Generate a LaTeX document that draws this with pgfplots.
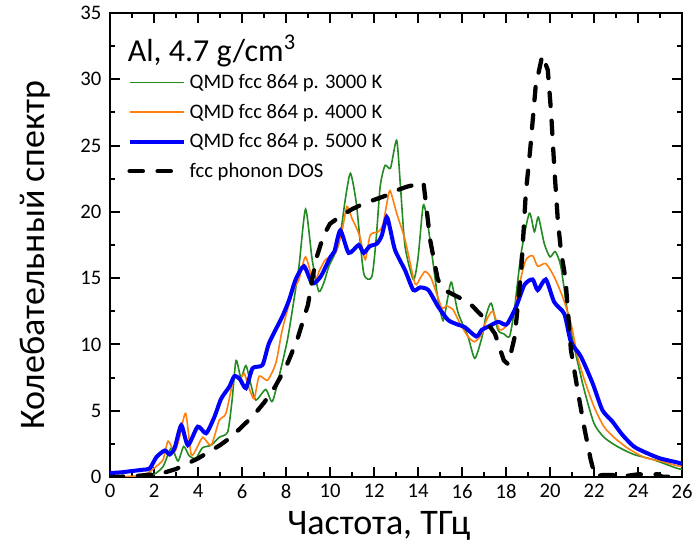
\documentclass[border=0pt]{standalone}
\usepackage{pgfplots}
\pgfplotsset{compat=1.18}
\usepackage{fontspec}
\setmainfont{Carlito}
\definecolor{cgreen}{RGB}{34,139,34}
\definecolor{corange}{RGB}{255,127,14}
\definecolor{cblue}{RGB}{0,0,255}
\begin{document}
\begin{tikzpicture}
\path[use as bounding box] (-82.5pt,-54pt) rectangle (437.25pt,357.75pt);
\begin{axis}[
  scale only axis, width=429pt, height=348pt,
  xmin=0, xmax=26, ymin=0, ymax=35,
  xtick={0,2,...,26}, ytick={0,5,...,35},
  minor x tick num=1, minor y tick num=1,
  tick align=inside, xtick pos=both, ytick pos=both,
  major tick length=7.5pt, minor tick length=3.75pt,
  every tick/.style={line width=1.4pt, black},
  axis line style={line width=1.8pt},
  /pgf/number format/assume math mode=true,
  tick label style={font=\fontsize{15.5}{18}\selectfont},
  xticklabel style={yshift=-2pt},
  yticklabel style={xshift=-3pt},
  xlabel={Частота, ТГц}, ylabel={Колебательный спектр},
  label style={font=\fontsize{27}{32}\selectfont},
  xlabel style={at={(axis description cs:0.47,-0.105)}, anchor=center},
  ylabel style={at={(axis description cs:-0.13,0.478)}, anchor=center, rotate=0},
  legend style={draw=none, fill=none, inner sep=0pt, row sep=5pt,
    font=\fontsize{15.5}{18}\selectfont,
    at={(axis description cs:0.03,0.875)}, anchor=north west,
    nodes={inner sep=2.5pt}},
  legend cell align=left,
  legend image code/.code={\draw[#1] (0pt,0pt) -- (41pt,0pt);},
  clip=true,
]
\addplot[cgreen, line width=1.2pt, smooth, tension=0.4] coordinates {
(0,0) (1,0.02) (1.5,0.05) (2,0.2) (2.41,0.78) (2.79,2.2) (3.09,1.2) (3.35,2.3) (3.6,1.6) (3.9,1.4) (4.2,2.2) (4.6,2.4) (4.97,3.0) (5.35,3.4) (5.55,5.8) (5.73,8.8) (5.95,7.5) (6.18,8.4) (6.4,7.0) (6.63,5.8) (7.08,6.6) (7.38,5.7) (7.76,8.1) (8.06,10.3) (8.29,12.6) (8.59,15.9) (8.89,20.2) (9.19,16.4) (9.49,14.0) (9.75,14.8) (9.95,15.9) (10.4,17.6) (10.7,21) (10.93,22.9) (11.2,20.6) (11.53,15.4) (11.9,15.1) (12.1,18) (12.28,21.9) (12.5,23.5) (12.75,23.3) (13.03,25.4) (13.2,22) (13.41,17.4) (13.79,14.9) (14.0,16.5) (14.24,20.5) (14.45,19) (14.69,16.1) (14.9,13.5) (15.14,11.8) (15.35,13.5) (15.52,14.7) (15.82,12.4) (16.27,10.6) (16.58,8.95) (16.9,10.5) (17.1,12.2) (17.33,13.1) (17.63,11.1) (17.9,10.8) (18.16,10.6) (18.38,12.6) (18.69,16.9) (19.06,19.9) (19.29,18.5) (19.47,19.6) (19.74,17.6) (20.0,16.6) (20.24,17.0) (20.49,15.9) (20.8,12.4) (21.1,9.8) (21.55,6.6) (22.0,4.05) (22.45,3.0) (23.06,2.3) (23.81,1.7) (24.71,1.3) (25.78,0.65) (26,0.6)
};
\addlegendentry{QMD fcc 864 p. 3000 K}
\addplot[corange, line width=1.2pt, smooth, tension=0.4] coordinates {
(0,0) (1,0.05) (1.5,0.15) (1.81,0.4) (2.1,0.8) (2.41,1.3) (2.64,2.7) (2.94,1.9) (3.16,3.0) (3.44,4.8) (3.69,1.7) (3.95,2.2) (4.22,3.0) (4.6,2.4) (4.97,4.3) (5.27,4.8) (5.65,7.6) (5.88,7.3) (6.1,7.8) (6.3,6.8) (6.55,5.9) (6.78,7.6) (7.16,7.3) (7.54,8.6) (7.83,11.1) (8.29,13.9) (8.59,14.9) (8.89,16.6) (9.27,14.6) (9.5,15.5) (9.8,16.4) (10.25,16.9) (10.55,18.6) (10.77,20.4) (11.0,19.5) (11.2,18.8) (11.38,18.0) (11.6,16.4) (11.83,18.25) (12.2,18.5) (12.4,19) (12.58,20.6) (12.73,21.6) (13.03,19.9) (13.41,17.9) (13.86,14.6) (14.1,15) (14.32,15.5) (14.6,15.0) (15.07,12.8) (15.3,12.9) (15.6,12.6) (15.9,11.6) (16.27,10.6) (16.58,10.2) (16.9,10.8) (17.1,11.8) (17.4,12.5) (17.71,11.1) (18.08,11.5) (18.38,12.6) (18.69,15.1) (18.91,16.4) (19.21,16.7) (19.44,15.9) (19.81,16.1) (20.19,15.1) (20.57,13.6) (20.95,11.6) (21.25,9.1) (21.55,7.4) (22.0,5.3) (22.45,3.8) (22.9,3.0) (23.51,2.2) (24.26,1.5) (25.01,1.2) (25.78,0.85) (26,0.8)
};
\addlegendentry{QMD fcc 864 p. 4000 K}
\addplot[cblue, line width=3pt, smooth, tension=0.4] coordinates {
(0,0.3) (0.5,0.35) (1,0.45) (1.5,0.55) (1.81,0.65) (2.11,1.5) (2.49,2.0) (2.71,1.7) (2.94,2.2) (3.24,3.9) (3.54,2.4) (3.99,3.8) (4.37,3.3) (4.75,4.55) (5.05,5.9) (5.42,6.8) (5.65,7.6) (5.9,7.4) (6.18,6.7) (6.48,8.2) (6.93,8.45) (7.23,10.1) (7.83,12.1) (8.14,13.35) (8.44,14.9) (8.82,15.9) (9.19,14.6) (9.57,15.1) (10.02,16.6) (10.2,17.0) (10.47,18.6) (10.85,16.9) (11.3,17.5) (11.53,16.9) (11.8,17.4) (12.13,17.6) (12.35,18.2) (12.58,19.6) (12.75,18.6) (12.96,17.1) (13.41,15.6) (13.79,14.1) (14.1,14.3) (14.47,14.1) (14.92,12.84) (15.37,11.84) (15.8,11.5) (16.13,11.3) (16.65,10.6) (16.9,11.1) (17.18,11.33) (17.63,11.7) (17.93,11.5) (18.08,11.6) (18.46,12.84) (18.84,14.5) (19.21,14.9) (19.44,14.1) (19.81,14.9) (20.19,13.2) (20.65,12.3) (20.95,10.2) (21.4,9.1) (21.93,7.1) (22.38,5.05) (22.83,4.2) (23.28,3.2) (23.81,2.3) (24.41,1.8) (25.01,1.4) (25.78,1.1) (26,1.0)
};
\addlegendentry{QMD fcc 864 p. 5000 K}
\addplot[black, line width=3.2pt, line cap=round, dash pattern=on 10pt off 11pt] coordinates {
(0,0) (1,0.05) (2,0.2) (2.5,0.35) (3,0.6) (3.5,1.0) (4,1.4) (4.5,1.9) (5,2.4) (5.5,3.0) (6,3.8) (6.5,4.6) (7,5.6) (7.5,6.8) (8,8.3) (8.5,10.3) (9,13) (9.2,15) (9.4,16.6) (9.7,18.2) (10,19.1) (10.5,19.7) (11,20.2) (11.5,20.6) (12,20.9) (12.5,21.2) (13,21.6) (13.5,21.9) (14,22.1) (14.25,22.2) (14.35,20.8) (14.55,17.9) (14.7,16.6) (14.9,14.9) (15.2,14.1) (15.8,13.6) (16.35,13.1) (17,12) (17.5,10.8) (17.9,8.8) (18.1,8.5) (18.4,10.6) (18.7,15.8) (18.9,21.4) (19.1,24.7) (19.35,29.5) (19.65,31.8) (19.9,30.7) (20.05,27.5) (20.2,23.2) (20.35,19.5) (20.5,17) (20.7,15) (20.95,9.6) (21.25,6.6) (21.55,3.8) (21.85,1.3) (22.05,0.05) (22.4,0.15) (23,0.15) (23.2,0.02) (24,0.2) (24.9,0.2) (25.1,0.02) (26,0)
};
\addlegendentry{fcc phonon DOS}
\node[anchor=west, inner sep=0pt, font=\fontsize{24}{28}\selectfont] at (axis cs:0.8,32.1) {Al, 4.7 g/cm\textsuperscript{3}};
\end{axis}
\end{tikzpicture}
\end{document}
